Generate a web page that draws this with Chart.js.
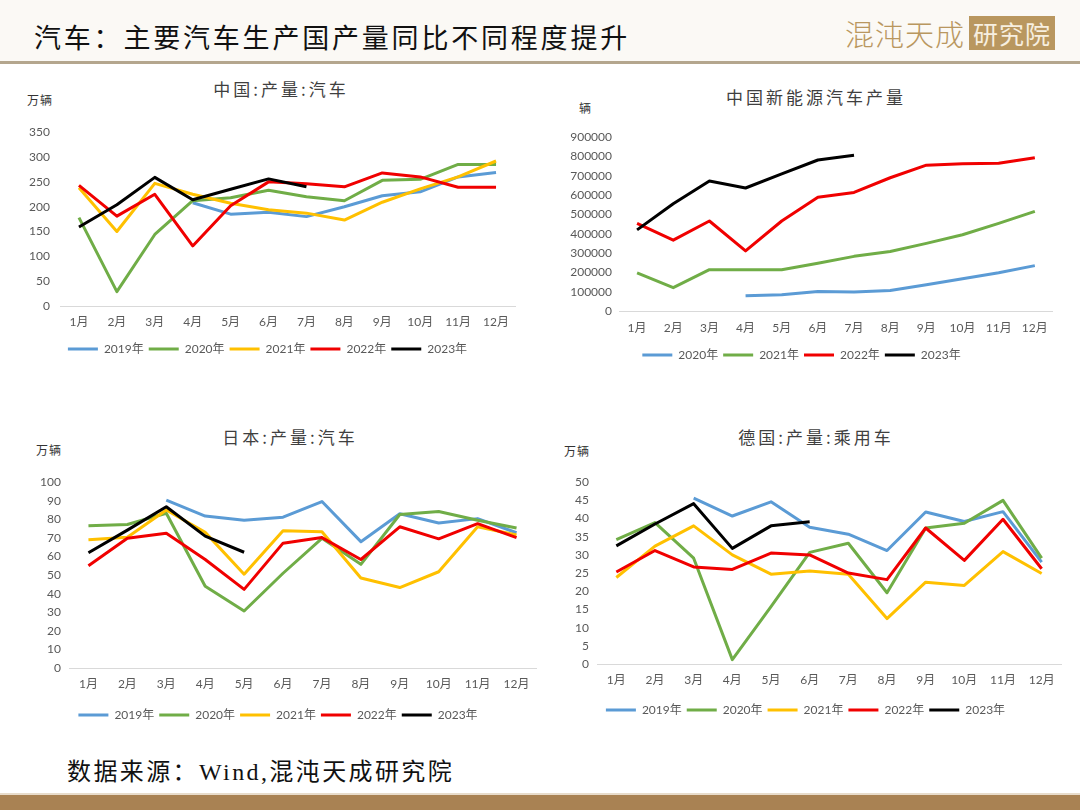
<!DOCTYPE html>
<html><head><meta charset="utf-8">
<script src="https://cdn.jsdelivr.net/npm/chart.js@4/dist/chart.umd.min.js"></script>
<style>
body{margin:0;width:1080px;height:810px;position:relative;background:#fff;overflow:hidden;font-family:"Noto Sans CJK SC",sans-serif;}
.abs{position:absolute;white-space:nowrap;}
#hdr{left:0;top:0;width:1080px;height:62px;background:#fbf9f5;}
#hline{left:0;top:61px;width:1080px;height:3px;background:#b4a68e;}
#mtitle{left:34px;top:18px;font-size:27px;line-height:38px;letter-spacing:2.8px;color:#111;}
#logo1{left:845px;top:14px;font-size:29px;line-height:38px;color:#b9975f;letter-spacing:1px;font-weight:300;}
#logo2{left:969px;top:16px;width:86px;height:34px;background:#b9975f;color:#f7efe0;font-size:25px;line-height:34px;text-align:center;letter-spacing:1px;}
#foot{left:67px;top:755px;font-size:24px;line-height:34px;letter-spacing:2.4px;color:#111;font-family:"Liberation Serif","Noto Sans CJK SC",serif;}
#band{left:0;top:795px;width:1080px;height:15px;background:#a98253;}
#band2{left:0;top:793px;width:1080px;height:2px;background:#e8dccb;}
.ctitle{font-size:17px;line-height:22px;color:#3f3f3f;letter-spacing:3px;transform:translateX(-50%);}
.unit{font-size:12px;line-height:16px;color:#333;letter-spacing:1px;}
canvas{position:absolute;}
</style></head>
<body>
<div class="abs" id="hdr"></div>
<div class="abs" id="hline"></div>
<div class="abs" id="mtitle">汽车：主要汽车生产国产量同比不同程度提升</div>
<div class="abs" id="logo1">混沌天成</div>
<div class="abs" id="logo2">研究院</div>

<div class="abs ctitle" style="left:281px;top:78px;">中国:产量:汽车</div>
<div class="abs unit" style="left:27px;top:92px;">万辆</div>
<div class="abs ctitle" style="left:816px;top:86px;">中国新能源汽车产量</div>
<div class="abs unit" style="left:579px;top:100px;">辆</div>
<div class="abs ctitle" style="left:290px;top:426px;">日本:产量:汽车</div>
<div class="abs unit" style="left:36px;top:442px;">万辆</div>
<div class="abs ctitle" style="left:816px;top:426px;">德国:产量:乘用车</div>
<div class="abs unit" style="left:564px;top:443px;">万辆</div>

<canvas id="c1" width="500" height="250" style="left:20px;top:115px;"></canvas>
<canvas id="c2" width="508" height="248" style="left:550px;top:123px;"></canvas>
<canvas id="c3" width="521" height="264" style="left:20px;top:467px;"></canvas>
<canvas id="c4" width="516" height="259" style="left:550px;top:467px;"></canvas>

<div class="abs" id="foot">数据来源：Wind,混沌天成研究院</div>
<div class="abs" id="band2"></div>
<div class="abs" id="band"></div>

<script>
const months = ["1月","2月","3月","4月","5月","6月","7月","8月","9月","10月","11月","12月"];
const years5 = ["2019年","2020年","2021年","2022年","2023年"];
const years4 = ["2020年","2021年","2022年","2023年"];

// 中国:产量:汽车 (万辆)
const cn2019 = [null,null,null,208,185,189,180,200,222,230,260,269];
const cn2020 = [178,29,144,212,218,233,220,212,253,255,285,285];
const cn2021 = [238,150,247,225,207,194,187,173,209,236,260,292];
const cn2022 = [243,181,225,121,202,250,246,240,268,260,239,239];
const cn2023 = [159,204,259,214,235,256,240];
const cnTicks = [0,350,50];

// 中国新能源汽车产量 (辆)
const nev2020 = [null,null,null,79000,84000,101000,99000,106000,136000,167000,198000,235000];
const nev2021 = [197000,121000,214000,214000,214000,247000,283000,308000,350000,395000,454000,516000];
const nev2022 = [454000,367000,466000,311000,466000,589000,614000,690000,755000,762000,765000,794000];
const nev2023 = [420000,555000,673000,637000,710000,782000,806000];
const nevTicks = [0,900000,100000];

// 日本:产量:汽车 (万辆)
const jp2019 = [null,null,90.4,81.8,79.5,81.2,89.6,68,83,78,80.4,72.8];
const jp2020 = [76.5,77.2,83.3,44,30.7,51,69.8,55.8,82.6,84.2,79.5,75.4];
const jp2021 = [69,70.4,85,73,50.5,73.9,73.3,48.4,43.3,51.8,76,71.6];
const jp2022 = [55,69.8,72.5,58.4,42.3,67.2,70.2,58.4,76,69.5,77.7,70.2];
const jp2023 = [62,74.2,86.8,71,62.3];
const jpTicks = [0,100,10];

// 德国:产量:乘用车 (万辆)
const de2019 = [null,null,45.6,40.7,44.6,37.6,35.7,31.2,41.8,39.2,41.9,28];
const de2020 = [34.2,38.9,29.1,1.2,15.8,30.7,33.2,19.6,37.4,38.7,45,29.1];
const de2021 = [23.8,32.4,38,30,24.7,25.6,24.7,12.5,22.5,21.6,30.9,24.9];
const de2022 = [25.3,31.2,26.7,26,30.5,30,25,23.2,37.4,28.5,39.8,26.2];
const de2023 = [32.5,38.5,44.1,31.8,38,39.1];
const deTicks = [0,50,5];

const COLS5 = ["#5B9BD5","#70AD47","#FFC000","#F00000","#000000"];
const COLS4 = ["#5B9BD5","#70AD47","#F00000","#000000"];
const FONT = "Lato, 'Noto Sans CJK SC', sans-serif";

function make(id, names, series, colors, ticks, cfg){
  const n = names.length;
  new Chart(document.getElementById(id), {
    type:'line',
    data:{labels:months, datasets:names.map((nm,i)=>({
      label:nm, data:series[i], borderColor:colors[i], backgroundColor:colors[i], borderWidth:3,
      pointRadius:0, pointHoverRadius:0, tension:0, order:n-i, borderJoinStyle:'round'}))},
    options:{
      responsive:false, animation:false, events:[],
      layout:{padding:{top:cfg.padTop, right:5, left:0, bottom:0}},
      plugins:{
        tooltip:{enabled:false},
        title:{display:false},
        legend:{display:true, position:'bottom',
          labels:{usePointStyle:true, pointStyle:'line', pointStyleWidth:30, padding:5,
            color:'#595959', font:{family:FONT, size:12},
            sort:(a,b)=>a.datasetIndex-b.datasetIndex}}
      },
      scales:{
        x:{offset:true, grid:{display:false, drawTicks:false},
           border:{display:true, color:'#D9D9D9', width:1},
           ticks:{color:'#595959', font:{family:FONT, size:12}, padding:cfg.xPad, maxRotation:0, autoSkip:false},
           afterFit:(s)=>{s.height = cfg.xH;}},
        y:{min:ticks[0], max:ticks[1], grid:{display:false, drawTicks:false},
           border:{display:false},
           ticks:{stepSize:ticks[2], color:'#595959', font:{family:FONT, size:12}, padding:cfg.yPad,
             callback:(v)=>String(v)},
           afterFit:(s)=>{s.width = cfg.yW;}}
      }
    }
  });
}

make('c1', years5, [cn2019,cn2020,cn2021,cn2022,cn2023], COLS5, cnTicks, {padTop:11, xH:32, yW:40, xPad:9, yPad:10});
make('c2', years4, [nev2020,nev2021,nev2022,nev2023], COLS4, nevTicks, {padTop:10, xH:33, yW:69, xPad:10, yPad:7});
make('c3', years5, [jp2019,jp2020,jp2021,jp2022,jp2023], COLS5, jpTicks, {padTop:11, xH:36, yW:49, xPad:9, yPad:8});
make('c4', years5, [de2019,de2020,de2021,de2022,de2023], COLS5, deTicks, {padTop:10, xH:35, yW:47, xPad:9, yPad:8});
</script>
</body></html>
